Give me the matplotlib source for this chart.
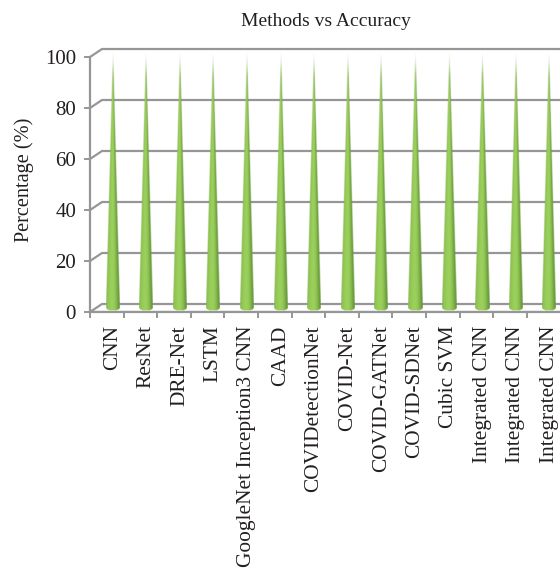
import numpy as np
import matplotlib
matplotlib.use('Agg')
import matplotlib.pyplot as plt
from matplotlib.colors import to_rgb

METODOS = ['CNN', 'ResNet', 'DRE-Net', 'LSTM', 'GoogleNet Inception3 CNN',
           'CAAD', 'COVIDetectionNet', 'COVID-Net', 'COVID-GATNet',
           'COVID-SDNet', 'Cubic SVM', 'Integrated CNN', 'Integrated CNN',
           'Integrated CNN']
ACURACIA = [100, 100, 100, 100, 100, 100, 100, 100, 100, 100, 100, 100, 100, 100]
Y_TICKS = [0, 20, 40, 60, 80, 100]

CINZA = '#969696'
TEXTO = '#231f20'
plt.rcParams['font.family'] = ['Liberation Serif']

L, A = 560, 570
fig = plt.figure(figsize=(L / 100, A / 100), dpi=100)
ax = fig.add_axes([90 / L, (A - 312) / A, (L - 90) / L, 255 / A])
ax.set_xlim(0, (L - 90) / 33.6)
ax.set_ylim(0, 100)

# profundidade do "3D" em unidades dos dados
dx, dy = 12 / 33.6, 8 / 2.55

for v in Y_TICKS:
    ax.plot([0, dx, ax.get_xlim()[1]], [v, v + dy, v + dy], color=CINZA, lw=1.6,
            zorder=1, clip_on=False, solid_joinstyle='miter')
ax.axhline(0, color=CINZA, lw=1.6, zorder=1)

# gradiente do cone: escuro nas bordas, claro no meio
escuro = np.array(to_rgb('#6b9c3c'))
claro = np.array(to_rgb('#9bd05c'))
lado = np.array(to_rgb('#86b84c'))

largura = 14 / 33.6
elipse = 1.3


def cone(cx, valor):
    ny, nx = 400, 80
    xs = np.linspace(-largura / 2, largura / 2, nx)
    ys = np.linspace(-elipse, valor, ny)
    X, Y = np.meshgrid(xs, ys)
    meia = np.clip(largura / 2 * (1 - Y / valor), 1e-4, None)
    u = X / meia
    img = np.zeros((ny, nx, 4))
    t = np.clip(np.abs(u + 0.1) / 0.9, 0, 1)[..., None] ** 2
    base = np.where(u[..., None] > 0, escuro, lado)
    img[..., :3] = claro * (1 - t) + base * t
    # recorte em pixels suaves
    meia_px = meia * 33.6
    dentro = np.clip(meia_px - np.abs(X) * 33.6 + 0.5, 0, 1)
    fundo = -elipse * np.sqrt(np.clip(1 - (X / (largura / 2)) ** 2, 0, 1))
    dentro = np.where(Y < 0, (Y >= fundo) * 1.0, dentro)
    sumir = np.clip((valor - Y) / 9, 0, 1) ** 0.8
    img[..., 3] = dentro * sumir
    ax.imshow(img, origin='lower', aspect='auto', zorder=3, clip_on=False,
              interpolation='bilinear',
              extent=[cx - largura / 2, cx + largura / 2,
                      -elipse + dy * 0.55, valor + dy * 0.55])


for i, valor in enumerate(ACURACIA):
    cone(i + 0.67, valor)

ax.set_xlim(0, (L - 90) / 33.6)
ax.set_ylim(0, 100)

for lado_nome in ('top', 'right'):
    ax.spines[lado_nome].set_visible(False)
for lado_nome in ('left', 'bottom'):
    ax.spines[lado_nome].set_color(CINZA)
    ax.spines[lado_nome].set_linewidth(1.6)

ax.set_yticks(Y_TICKS)
ax.tick_params(axis='y', length=4.5, width=1.4, color=CINZA, labelcolor=TEXTO,
               labelsize=15, pad=5.5)
ax.set_xticks(range(14))
ax.set_xticklabels([])
ax.tick_params(axis='x', which='major', length=4.5, width=1.4, color=CINZA)
ax.set_xticks(np.arange(14) + 0.67, minor=True)
ax.set_xticklabels(METODOS, minor=True, rotation=90, fontsize=15.4, color=TEXTO)
ax.tick_params(axis='x', which='minor', length=0, pad=9.5)

ax.set_ylabel('Percentage (%)', fontsize=14.6, color=TEXTO)
ax.yaxis.set_label_coords(-56 / 470, 0.518)
fig.text(326 / L, 1 - 22 / A, 'Methods vs Accuracy', fontsize=14, color=TEXTO,
         ha='center', va='center')

fig.savefig('out.png', dpi=100)
